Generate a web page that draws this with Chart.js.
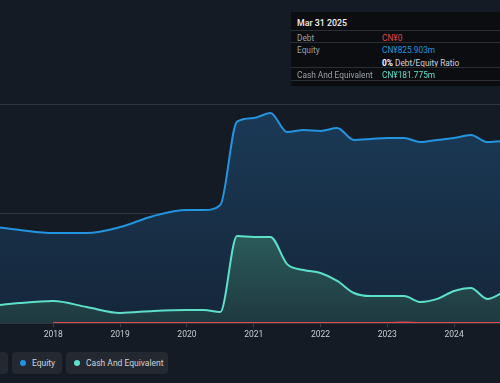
<!DOCTYPE html>
<html>
<head>
<meta charset="utf-8">
<script src="https://cdn.jsdelivr.net/npm/chart.js@4.4.1/dist/chart.umd.min.js"></script>
<style>
  html,body{margin:0;padding:0;background:#151b24;width:500px;height:383px;overflow:hidden;font-family:Roboto,"Open Sans",sans-serif;}
  #wrap{position:absolute;left:0;top:0;width:500px;height:345px;}
  #tip{position:absolute;left:291px;top:12px;width:230px;height:74px;background:#0b0d10;color:#fff;font-size:8.3px;white-space:nowrap;}
  #tip .title{position:absolute;left:6px;top:6px;font-weight:500;font-size:8.8px;color:#f2f2f2;}
  #tip .row{position:absolute;left:0;width:230px;height:12px;border-top:1px solid #2a2e35;}
  #tip .lab{position:absolute;left:6px;top:1.5px;color:#9ba1a9;}
  #tip .val{position:absolute;left:91px;top:1.5px;}
  #legend{position:absolute;top:352px;left:0;height:22px;}
  .btn{position:absolute;top:0;height:22px;background:#232831;border-radius:4px;color:#d0d4da;font-size:8.5px;line-height:22px;white-space:nowrap;}
  .dot{position:absolute;top:8px;width:6px;height:6px;border-radius:3px;}
</style>
</head>
<body>
<div id="wrap"><canvas id="c" width="500" height="345"></canvas></div>
<div id="tip">
  <div class="title">Mar 31 2025</div>
  <div class="row" style="top:18px"><span class="lab">Debt</span><span class="val" style="color:#e5474d">CN¥0</span></div>
  <div class="row" style="top:30px"><span class="lab">Equity</span><span class="val" style="color:#2394df">CN¥825.903m</span></div>
  <div class="row" style="top:43px;border-top-color:transparent"><span class="val" style="color:#cfd3d8"><b style="color:#fff">0%</b> Debt/Equity Ratio</span></div>
  <div class="row" style="top:55px"><span class="lab">Cash And Equivalent</span><span class="val" style="color:#5ce0c9">CN¥181.775m</span></div>
  <div class="row" style="top:68px;height:6px"></div>
</div>
<div id="legend">
  <div class="btn" style="left:-40px;width:48px"><span class="dot" style="left:10px;background:#e5474d"></span><span style="position:absolute;left:20px">Debt</span></div>
  <div class="btn" style="left:12px;width:50px"><span class="dot" style="left:8px;background:#2394df"></span><span style="position:absolute;left:20px">Equity</span></div>
  <div class="btn" style="left:66px;width:102px"><span class="dot" style="left:8px;background:#5ce0c9"></span><span style="position:absolute;left:20px">Cash And Equivalent</span></div>
</div>
<script>
// Dates as decimal years (quarter/half-year ends)
const dates = [2017.0, 2017.5, 2018.0, 2018.5, 2019.0, 2019.5, 2020.0, 2020.25, 2020.5, 2020.75, 2021.0, 2021.25, 2021.5, 2021.75, 2022.0, 2022.25, 2022.5, 2022.75, 2023.0, 2023.25, 2023.5, 2023.75, 2024.0, 2024.25, 2024.5, 2024.75, 2025.0, 2025.25];
// values in CN¥ millions
const equity = [445, 425, 411, 411, 438, 489, 516, 516, 539, 920, 936, 959, 872, 881, 877, 890, 836, 840, 845, 845, 826, 836, 845, 858, 826, 831, 828, 825.903];
const cash = [75, 91, 100, 73, 46, 55, 59, 59, 50, 397, 393, 393, 269, 242, 228, 192, 137, 123, 123, 123, 96, 110, 146, 160, 110, 142, 170, 181.775];
const debtDates = [2018.0, 2018.5, 2019.0, 2019.5, 2020.0, 2020.5, 2021.0, 2021.5, 2022.0, 2022.5, 2023.0, 2023.25, 2023.5, 2024.0, 2024.5, 2025.0, 2025.25];
const debt = [0, 0, 0, 0, 0, 0, 0, 0, 0, 0, 0, 2, 0, 0, 0, 0, 0];
const yTicks = [0, 500, 1000];
const xTicks = [2018, 2019, 2020, 2021, 2022, 2023, 2024];

const pts = (xs, ys) => xs.map((x, i) => ({x: x, y: ys[i]}));

function grad(ctx, chartArea, stops) {
  const g = ctx.createLinearGradient(0, chartArea.top, 0, chartArea.bottom);
  stops.forEach(s => g.addColorStop(s[0], s[1]));
  return g;
}

new Chart(document.getElementById('c'), {
  type: 'line',
  data: {
    datasets: [
      {label: 'Debt', data: pts(debtDates, debt), borderColor: '#e5474d', borderWidth: 2, pointRadius: 0, fill: false, cubicInterpolationMode: 'monotone'},
      {label: 'Cash And Equivalent', data: pts(dates, cash), borderColor: '#5ce0c9', borderWidth: 2, pointRadius: 0, cubicInterpolationMode: 'monotone', fill: 'origin',
        backgroundColor: c => { const a = c.chart.chartArea; if (!a) return 'rgba(0,0,0,0)'; return grad(c.chart.ctx, a, [[0.65, '#2f6462'], [1, '#1e3940']]); }},
      {label: 'Equity', data: pts(dates, equity), borderColor: '#2394df', borderWidth: 2, pointRadius: 0, cubicInterpolationMode: 'monotone', fill: 'origin',
        backgroundColor: c => { const a = c.chart.chartArea; if (!a) return 'rgba(0,0,0,0)'; return grad(c.chart.ctx, a, [[0.3, '#1b3b58'], [1, '#15263a']]); }}
    ]
  },
  options: {
    responsive: false, animation: false,
    layout: {padding: 0},
    plugins: {legend: {display: false}, tooltip: {enabled: false}},
    scales: {
      x: {type: 'linear', min: 2017.202, max: 2024.687,
        afterBuildTicks: s => { s.ticks = xTicks.map(v => ({value: v})); },
        afterFit: s => { s.height = 22; },
        ticks: {color: '#c9cdd3', font: {family: 'Roboto', size: 8.5}, padding: 3, maxRotation: 0, callback: v => String(v)},
        grid: {drawOnChartArea: false, drawTicks: true, tickLength: 4, color: '#3a3f48'},
        border: {display: false}},
      y: {min: 0, max: 1475,
        afterBuildTicks: s => { s.ticks = yTicks.map(v => ({value: v})); },
        afterFit: s => { s.width = 0; },
        ticks: {display: false},
        grid: {color: '#30353f', lineWidth: 1, drawTicks: false},
        border: {display: false}}
    }
  }
});
</script>
</body>
</html>
